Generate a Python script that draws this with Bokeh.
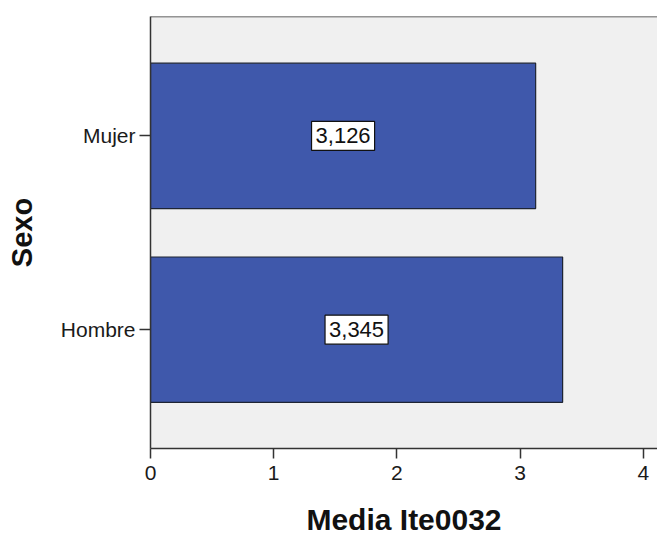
from bokeh.plotting import figure
from bokeh.models import ColumnDataSource, Range1d, FixedTicker, Span
from bokeh.core.properties import value
from bokeh.embed import file_html
from bokeh.resources import INLINE

# Data
categories = ["Hombre", "Mujer"]
means = [3.345, 3.126]
x_ticks = [0, 1, 2, 3, 4]
x_title = "Media Ite0032"
y_title = "Sexo"

positions = list(range(len(categories)))
labels = [f"{v:.3f}".replace(".", ",") for v in means]

source = ColumnDataSource(data=dict(
    y=positions,
    right=means,
    mid=[v / 2 for v in means],
    label=labels,
))

FONT = "Liberation Sans"

p = figure(
    width=657, height=538,
    output_backend="svg", toolbar_location=None,
    x_range=Range1d(0, 4.115), y_range=Range1d(-0.613, 1.616),
    min_border_left=150, min_border_right=0, min_border_top=16, min_border_bottom=0,
)
p.outline_line_color = None
p.background_fill_color = "#F0F0F0"
p.border_fill_color = "white"
p.grid.visible = False

p.hbar(y="y", left=0, right="right", height=0.75, source=source,
       fill_color="#3F58AB", line_color="#1E2433", line_width=1.2)

p.text(x="mid", y="y", text="label", source=source,
       text_align="center", text_baseline="middle",
       text_font=value(FONT), text_font_size="22px", text_color="#111111",
       background_fill_color="white", border_line_color="#111111",
       border_line_width=1.2, padding=dict(left=4, right=4, top=7, bottom=7))

# top border of the plot area
p.add_layout(Span(location=p.y_range.end, dimension="width",
                  line_color="#333333", line_width=1.5))

# x axis
xa = p.xaxis[0]
xa.ticker = FixedTicker(ticks=x_ticks)
xa.minor_tick_line_color = None
xa.major_tick_in = 0
xa.major_tick_out = 10
xa.major_tick_line_color = "#333333"
xa.major_tick_line_width = 1.5
xa.axis_line_color = "#333333"
xa.axis_line_width = 1.5
xa.major_label_text_font = FONT
xa.major_label_text_font_size = "21px"
xa.major_label_text_color = "#1a1a1a"
xa.major_label_standoff = 7
xa.axis_label = x_title
xa.axis_label_text_font = FONT
xa.axis_label_text_font_style = "bold"
xa.axis_label_text_font_size = "30px"
xa.axis_label_text_color = "#111111"
xa.axis_label_standoff = 20

# y axis
ya = p.yaxis[0]
ya.ticker = FixedTicker(ticks=positions)
ya.major_label_overrides = {i: c for i, c in zip(positions, categories)}
ya.minor_tick_line_color = None
ya.major_tick_in = 0
ya.major_tick_out = 11
ya.major_tick_line_color = "#333333"
ya.major_tick_line_width = 1.5
ya.axis_line_color = "#333333"
ya.axis_line_width = 1.5
ya.major_label_text_font = FONT
ya.major_label_text_font_size = "21px"
ya.major_label_text_color = "#1a1a1a"
ya.major_label_standoff = 4
ya.axis_label = y_title
ya.axis_label_text_font = FONT
ya.axis_label_text_font_style = "bold"
ya.axis_label_text_font_size = "29px"
ya.axis_label_text_color = "#111111"
ya.axis_label_standoff = 20

open("out.html", "w").write(file_html(p, INLINE))
